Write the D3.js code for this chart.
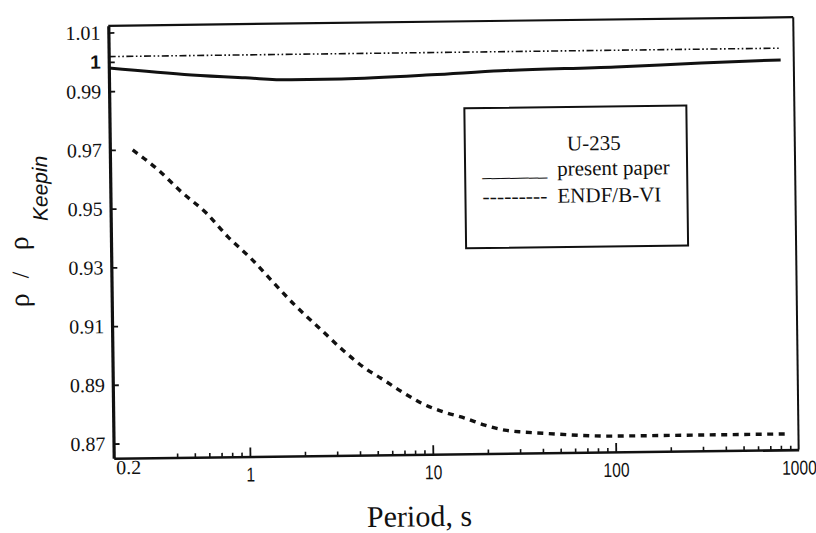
<!DOCTYPE html>
<html><head><meta charset="utf-8">
<script src="https://cdn.jsdelivr.net/npm/d3@7"></script>
<style>body{margin:0;background:#fff}svg{display:block}</style>
</head><body><svg id="c" width="816" height="533"></svg>
<script>
// ---- data ----
const yTickValues = [0.87, 0.89, 0.91, 0.93, 0.95, 0.97, 0.99, 1, 1.01];
const xLabelTicks = [0.2, 1, 10, 100, 1000];
const xMajorTicks = [1, 10, 100];
const xMinorTicks = [0.4,0.5,0.6,0.7,0.8,0.9, 2,3,4,5,6,7,8,9, 20,30,40,50,60,70,80,90, 200,300,400,500,600,700,800,900];
const refPeriod = [0.18, 850];
const refRatio  = [1.0018, 1.0018];
const presentPeriod = [0.18, 0.51, 1.0, 1.78, 3.35, 10.4, 25, 106, 311, 848];
const presentRatio  = [0.9979, 0.9952, 0.9940, 0.9931, 0.9932, 0.9942, 0.9953, 0.9961, 0.9971, 0.9978];
const endfPeriod = [0.24, 0.33, 0.44, 0.60, 0.785, 1.04, 1.375, 1.80, 2.44, 3.27, 4.38, 5.24, 7.0, 8.7, 11.6, 15, 19.3, 24.8, 30.8, 37.6, 99, 308, 844];
const endfRatio  = [0.9699, 0.9630, 0.9554, 0.9481, 0.9399, 0.9326, 0.9243, 0.9164, 0.9085, 0.9009, 0.8943, 0.8912, 0.8860, 0.8825, 0.8793, 0.8772, 0.8747, 0.8729, 0.8722, 0.8718, 0.8704, 0.8704, 0.8704];
const legendTitle = "U-235";
const legendLabels = ["present paper", "ENDF/B-VI"];
const legendSamples = ["_______", "---------"];
const xTitle = "Period, s";

// ---- layout ----
const L = 111, R = 796, T = 21.5, B = 454;
const svg = d3.select("#c");
const root = svg.append("g").attr("transform", "rotate(-0.72,450,240)");

const x = d3.scaleLog().domain([0.18, 1000]).range([L, R]);
const y = d3.scaleLinear().domain([0.865, 1.0123]).range([B, T]);

const serif = "Liberation Serif, serif";
const sans = "Liberation Sans, Arial, sans-serif";

// frame top/right
root.append("line").attr("x1", L).attr("x2", R).attr("y1", T).attr("y2", T).attr("stroke", "#111").attr("stroke-width", 2.2);
root.append("line").attr("x1", R).attr("x2", R).attr("y1", T).attr("y2", B).attr("stroke", "#111").attr("stroke-width", 2);

// x axis: minor ticks
const gMinor = root.append("g").attr("transform", `translate(0,${B})`)
  .call(d3.axisBottom(x).tickValues(xMinorTicks).tickSize(-4).tickSizeOuter(0).tickFormat(""));
gMinor.select(".domain").attr("stroke", "#111").attr("stroke-width", 2.6);
gMinor.selectAll(".tick line").attr("stroke", "#111").attr("stroke-width", 1.6);
// major ticks
const gMajor = root.append("g").attr("transform", `translate(0,${B})`)
  .call(d3.axisBottom(x).tickValues(xMajorTicks).tickSize(-9).tickSizeOuter(0).tickFormat(""));
gMajor.select(".domain").remove();
gMajor.selectAll(".tick line").attr("stroke", "#111").attr("stroke-width", 1.8);
// labels
const gLab = root.append("g").attr("transform", `translate(0,${B})`)
  .attr("font-family", null).attr("font-size", null)
  .call(d3.axisBottom(x).tickValues(xLabelTicks).tickSize(0).tickPadding(0).tickFormat(d => String(d)));
gLab.select(".domain").remove();
gLab.selectAll(".tick text")
  .attr("fill", "#111")
  .attr("dy", null)
  .attr("y", d => d === 0.2 ? 16 : 25)
  .attr("x", d => d === 0.2 ? 6 : 0)
  .attr("font-family", d => d === 0.2 ? serif : sans)
  .attr("font-size", "20px")
  .attr("transform", d => d === 0.2 ? null : "scale(0.78,1)");

// y axis
const gY = root.append("g").attr("transform", `translate(${L},0)`)
  .call(d3.axisLeft(y).tickValues(yTickValues).tickSize(-6).tickSizeOuter(0).tickPadding(8)
    .tickFormat(d => d === 1 ? "1" : d3.format(".2f")(d)));
gY.select(".domain").attr("stroke", "#111").attr("stroke-width", 3.2);
gY.selectAll(".tick line").attr("stroke", "#111").attr("stroke-width", 1.8);
gY.selectAll(".tick text")
  .attr("fill", "#111")
  .attr("font-family", d => d === 1 ? sans : serif)
  .attr("font-weight", d => d === 1 ? "bold" : "normal")
  .attr("font-size", d => d === 1 ? "19px" : "20px");

// lines
const line = d3.line().x(d => x(d[0])).y(d => y(d[1])).curve(d3.curveMonotoneX);
root.append("path").datum(d3.zip(refPeriod, refRatio)).attr("d", line)
  .attr("fill", "none").attr("stroke", "#111").attr("stroke-width", 1.6)
  .attr("stroke-dasharray", "7,2.5,1.6,2.5,1.6,2.5");
root.append("path").datum(d3.zip(presentPeriod, presentRatio)).attr("d", line)
  .attr("fill", "none").attr("stroke", "#111").attr("stroke-width", 3);
root.append("path").datum(d3.zip(endfPeriod, endfRatio)).attr("d", line)
  .attr("fill", "none").attr("stroke", "#111").attr("stroke-width", 3.4)
  .attr("stroke-dasharray", "6,5.5");

// legend
const lg = root.append("g");
lg.append("rect").attr("x", 466).attr("y", 108.5).attr("width", 222).attr("height", 140)
  .attr("fill", "#fff").attr("stroke", "#111").attr("stroke-width", 2);
lg.append("text").attr("x", 595).attr("y", 152).attr("text-anchor", "middle")
  .attr("font-family", serif).attr("font-size", "21px").attr("fill", "#111").text(legendTitle);
legendLabels.forEach((lab, i) => {
  const by = 177 + i * 27;
  lg.append("text").attr("x", 483).attr("y", by).attr("textLength", 65).attr("lengthAdjust", "spacingAndGlyphs")
    .attr("font-family", serif).attr("font-size", "21px").attr("fill", "#111").text(legendSamples[i]);
  lg.append("text").attr("x", 558).attr("y", by)
    .attr("font-family", serif).attr("font-size", "21px").attr("fill", "#111").text(lab);
});

// x title
root.append("text").attr("x", 416).attr("y", 526).attr("text-anchor", "middle")
  .attr("font-family", serif).attr("font-size", "30px").attr("fill", "#111").text(xTitle);

// y title (rotated pieces)
const yt = root.append("g").attr("transform", "translate(28,0) rotate(-90)");
yt.append("text").attr("x", -302).attr("y", 0).attr("font-family", serif).attr("font-size", "28px").attr("fill", "#111").text("ρ");
yt.append("text").attr("x", -273).attr("y", 0).attr("font-family", serif).attr("font-size", "24px").attr("fill", "#111").text("/");
yt.append("text").attr("x", -245).attr("y", 0).attr("font-family", serif).attr("font-size", "28px").attr("fill", "#111").text("ρ");
yt.append("text").attr("x", -216).attr("y", 20).attr("font-family", sans).attr("font-style", "italic").attr("font-size", "21px").attr("fill", "#111").text("Keepin");
</script></body></html>
